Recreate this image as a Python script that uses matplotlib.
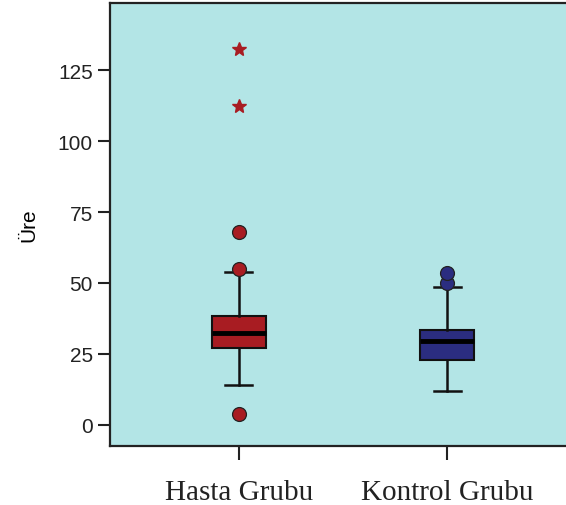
import matplotlib.pyplot as plt

groups = ["Hasta Grubu", "Kontrol Grubu"]
medians = [32.5, 29.5]
q1 = [27.0, 23.0]
q3 = [38.5, 33.5]
whis_lo = [14.0, 12.0]
whis_hi = [54.0, 48.5]
outliers = [[68.0, 55.0, 4.0], [50.0, 53.5]]
extremes = [[112.5, 132.5], []]
colors = ["#A81C22", "#2B2D80"]

bg = "#B3E5E6"

fig = plt.figure(figsize=(5.66, 5.06), dpi=100)
ax = fig.add_axes([110 / 566, 1 - 447 / 506, 466 / 566, 443 / 506])
ax.set_facecolor(bg)

stats = []
for i in range(len(groups)):
    stats.append({"med": medians[i], "q1": q1[i], "q3": q3[i],
                  "whislo": whis_lo[i], "whishi": whis_hi[i], "fliers": []})

pos = [1, 2]
bp = ax.bxp(stats, positions=pos, widths=0.26, capwidths=0.13,
            patch_artist=True, showfliers=False,
            medianprops=dict(color="black", linewidth=3.5),
            whiskerprops=dict(color="#111111", linewidth=1.8),
            capprops=dict(color="#111111", linewidth=1.8),
            boxprops=dict(edgecolor="#111111", linewidth=1.5))
for patch, c in zip(bp["boxes"], colors):
    patch.set_facecolor(c)

# outliers (circles) and extremes (stars)
for p, vals, c in zip(pos, outliers, colors):
    ax.plot([p] * len(vals), vals, "o", ms=10, mfc=c, mec="#222222", mew=0.9, zorder=3)
for p, vals, c in zip(pos, extremes, colors):
    if vals:
        ax.plot([p] * len(vals), vals, "*", ms=10.5, color=c, zorder=3)

ax.set_xlim(0.381, 2.619)
ax.set_ylim(-7.4, 148.6)
ax.set_yticks([0, 25, 50, 75, 100, 125])
ax.set_xticks(pos)
ax.set_xticklabels(groups, fontfamily="Liberation Serif", fontsize=21)
ax.tick_params(axis="y", labelsize=15, length=9, width=1.5, colors="#222222")
ax.tick_params(axis="x", length=10, width=1.5, pad=14, colors="#222222")
for lab in ax.get_yticklabels():
    lab.set_fontfamily("Liberation Sans")
ax.set_ylabel("Üre", fontfamily="Liberation Sans", fontsize=15, labelpad=14)

for s in ax.spines.values():
    s.set_linewidth(1.6)
    s.set_color("#222222")

fig.savefig("out.png", dpi=100)
